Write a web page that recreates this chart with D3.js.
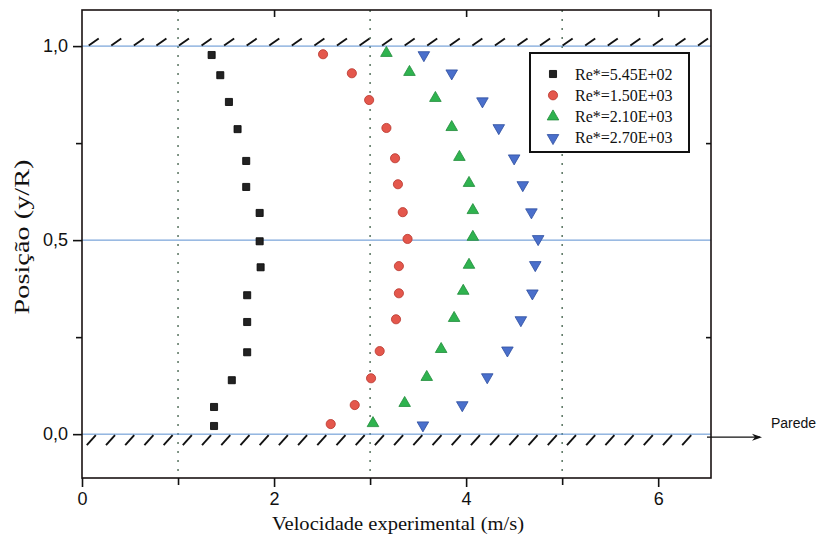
<!DOCTYPE html>
<html>
<head>
<meta charset="utf-8">
<script src="https://cdn.jsdelivr.net/npm/d3@7"></script>
<style>
  html, body { margin: 0; padding: 0; background: #fff; }
  svg { display: block; }
  .tick text { font-family: 'Liberation Sans', Arial, sans-serif; font-size: 18px; }
</style>
</head>
<body>
<svg id="chart" width="822" height="540"></svg>
<script>
// Velocity profiles across the channel for four Reynolds numbers
const seriesNames = ["Re*=5.45E+02", "Re*=1.50E+03", "Re*=2.10E+03", "Re*=2.70E+03"];

const velRe545 = [1.35, 1.44, 1.53, 1.62, 1.71, 1.71, 1.85, 1.85, 1.86, 1.72, 1.72, 1.72, 1.56, 1.375, 1.375];
const posRe545 = [0.977, 0.925, 0.856, 0.786, 0.704, 0.637, 0.570, 0.497, 0.430, 0.358, 0.289, 0.211, 0.139, 0.070, 0.021];

const velRe1500 = [2.51, 2.81, 2.99, 3.17, 3.26, 3.29, 3.34, 3.39, 3.30, 3.30, 3.27, 3.10, 3.01, 2.84, 2.59];
const posRe1500 = [0.979, 0.930, 0.861, 0.789, 0.711, 0.644, 0.572, 0.503, 0.433, 0.363, 0.296, 0.214, 0.144, 0.075, 0.026];

const velRe2100 = [3.17, 3.41, 3.68, 3.85, 3.93, 4.03, 4.07, 4.07, 4.03, 3.97, 3.875, 3.74, 3.59, 3.36, 3.03];
const posRe2100 = [0.982, 0.933, 0.866, 0.791, 0.714, 0.647, 0.577, 0.508, 0.436, 0.369, 0.299, 0.219, 0.147, 0.080, 0.028];

const velRe2700 = [3.56, 3.85, 4.17, 4.34, 4.50, 4.59, 4.68, 4.75, 4.72, 4.69, 4.57, 4.43, 4.22, 3.96, 3.55];
const posRe2700 = [0.977, 0.930, 0.858, 0.789, 0.711, 0.642, 0.572, 0.503, 0.436, 0.363, 0.294, 0.216, 0.147, 0.075, 0.023];

const xMajorTicks = [0, 2, 4, 6];
const xMinorTicks = [1, 3, 5];
const yMajorTicks = [0, 0.5, 1.0];
const yMinorTicks = [0.25, 0.75];
const wallLevels = [0, 0.5, 1.0];

const svg = d3.select("#chart");
const plotLeft = 82, plotRight = 711, plotTop = 10, plotBottom = 478;

const x = d3.scaleLinear().domain([0, 6.55]).range([plotLeft, plotRight]);
const y = d3.scaleLinear().domain([-0.113, 1.093]).range([plotBottom, plotTop]);

const sansFont = "'Liberation Sans', Arial, sans-serif";
const serifFont = "'Liberation Serif', 'Times New Roman', serif";

const styles = [
  { type: d3.symbolSquare,   size: 50, rot: 0,   fill: "#222222", stroke: "#000000" },
  { type: d3.symbolCircle,   size: 66, rot: 0,   fill: "#e4574c", stroke: "#b8352c" },
  { type: d3.symbolTriangle, size: 58, rot: 0,   fill: "#2fb34f", stroke: "#1f8a3a" },
  { type: d3.symbolTriangle, size: 58, rot: 180, fill: "#4a6fcb", stroke: "#2f4f9f" }
];

const series = [
  { vel: velRe545,  pos: posRe545 },
  { vel: velRe1500, pos: posRe1500 },
  { vel: velRe2100, pos: posRe2100 },
  { vel: velRe2700, pos: posRe2700 }
];

// dotted vertical guides at odd velocities
svg.append("g").selectAll("line").data(xMinorTicks).join("line")
  .attr("x1", d => x(d)).attr("x2", d => x(d))
  .attr("y1", plotTop).attr("y2", plotBottom)
  .attr("stroke", "#3f5f48").attr("stroke-width", 1.3)
  .attr("stroke-dasharray", "2,7");

// blue reference lines: walls and centreline
svg.append("g").selectAll("line").data(wallLevels).join("line")
  .attr("x1", plotLeft).attr("x2", plotRight)
  .attr("y1", d => y(d)).attr("y2", d => y(d))
  .attr("stroke", "#5b8fd0").attr("stroke-width", 1);

// wall hatching: above the upper wall, below the lower wall
const hatchX = d3.range(0.07, 6.45, 0.235);
svg.append("g").selectAll("line").data(hatchX).join("line")
  .attr("x1", d => x(d)).attr("y1", y(1.0) - 0.5)
  .attr("x2", d => x(d) + 10).attr("y2", y(1.0) - 7.5)
  .attr("stroke", "#111").attr("stroke-width", 1.9);
const hatchXLow = d3.range(0.05, 6.45, 0.2);
svg.append("g").selectAll("line").data(hatchXLow).join("line")
  .attr("x1", d => x(d)).attr("y1", y(0) + 11)
  .attr("x2", d => x(d) + 9).attr("y2", y(0) + 1)
  .attr("stroke", "#111").attr("stroke-width", 1.9);

// frame
svg.append("rect")
  .attr("x", plotLeft).attr("y", plotTop)
  .attr("width", plotRight - plotLeft).attr("height", plotBottom - plotTop)
  .attr("fill", "none").attr("stroke", "#1a1212").attr("stroke-width", 1.6);

// axes
const commaFmt = d => d3.format(".1f")(d).replace(".", ",");

const yAxis = svg.append("g").attr("transform", `translate(${plotLeft},0)`)
  .call(d3.axisLeft(y).tickValues(yMajorTicks).tickSize(9).tickPadding(5).tickFormat(commaFmt));
const yMinor = svg.append("g").attr("transform", `translate(${plotLeft},0)`)
  .call(d3.axisLeft(y).tickValues(yMinorTicks).tickSize(6).tickFormat(""));
const yRight = svg.append("g").attr("transform", `translate(${plotRight},0)`)
  .call(d3.axisLeft(y).tickValues(yMinorTicks).tickSize(5).tickFormat(""));

const xAxis = svg.append("g").attr("transform", `translate(0,${plotBottom})`)
  .call(d3.axisBottom(x).tickValues(xMajorTicks).tickSize(9).tickPadding(5).tickFormat(d3.format("d")));
const xMinor = svg.append("g").attr("transform", `translate(0,${plotBottom})`)
  .call(d3.axisBottom(x).tickValues(xMinorTicks).tickSize(7).tickFormat(""));
const xTop = svg.append("g").attr("transform", `translate(0,${plotTop})`)
  .call(d3.axisBottom(x).tickValues([2, 4, 6]).tickSize(7).tickFormat(""));

[yAxis, yMinor, yRight, xAxis, xMinor, xTop].forEach(g => {
  g.attr("font-size", 18).attr("font-family", sansFont);
  g.select(".domain").remove();
  g.selectAll(".tick line").attr("stroke", "#111").attr("stroke-width", 1.6);
  g.selectAll(".tick text").attr("fill", "#111").attr("font-size", 18);
});

// measured points
series.forEach((s, i) => {
  const st = styles[i];
  const sym = d3.symbol().type(st.type).size(st.size);
  svg.append("g").selectAll("path").data(s.vel.map((v, k) => [v, s.pos[k]])).join("path")
    .attr("d", sym)
    .attr("transform", d => `translate(${x(d[0])},${y(d[1])}) rotate(${st.rot})`)
    .attr("fill", st.fill).attr("stroke", st.stroke).attr("stroke-width", 0.8);
});

// legend
const lg = svg.append("g");
lg.append("rect").attr("x", 530).attr("y", 53).attr("width", 159).attr("height", 99)
  .attr("fill", "#fff").attr("stroke", "#111").attr("stroke-width", 2);
seriesNames.forEach((name, i) => {
  const st = styles[i];
  const cy = 74 + i * 21.3;
  lg.append("path")
    .attr("d", d3.symbol().type(st.type).size(st.size)())
    .attr("transform", `translate(553,${cy}) rotate(${st.rot})`)
    .attr("fill", st.fill).attr("stroke", st.stroke).attr("stroke-width", 0.8);
  lg.append("text").attr("x", 575).attr("y", cy + 5.5)
    .style("font-family", serifFont).style("font-size", "16px").attr("fill", "#111")
    .text(name);
});

// wall annotation
svg.append("line").attr("x1", plotRight - 4).attr("x2", 760)
  .attr("y1", y(0) + 3).attr("y2", y(0) + 3)
  .attr("stroke", "#111").attr("stroke-width", 1.3);
svg.append("path")
  .attr("d", `M${762},${y(0) + 3} L${752},${y(0) - 0.5} L${755},${y(0) + 3} L${752},${y(0) + 6.5} Z`)
  .attr("fill", "#111");
svg.append("text").attr("x", 771).attr("y", y(0) - 6)
  .style("font-family", sansFont).style("font-size", "14px").attr("fill", "#111")
  .text("Parede");

// axis titles
svg.append("text").attr("x", 398).attr("y", 530).attr("text-anchor", "middle")
  .attr("textLength", 252).attr("lengthAdjust", "spacingAndGlyphs")
  .style("font-family", serifFont).style("font-size", "19px").attr("fill", "#111")
  .text("Velocidade experimental (m/s)");
svg.append("text").attr("transform", "translate(29,237) rotate(-90)").attr("text-anchor", "middle")
  .attr("textLength", 155).attr("lengthAdjust", "spacingAndGlyphs")
  .style("font-family", serifFont).style("font-size", "21px").attr("fill", "#111")
  .text("Posição (y/R)");
</script>
</body>
</html>
